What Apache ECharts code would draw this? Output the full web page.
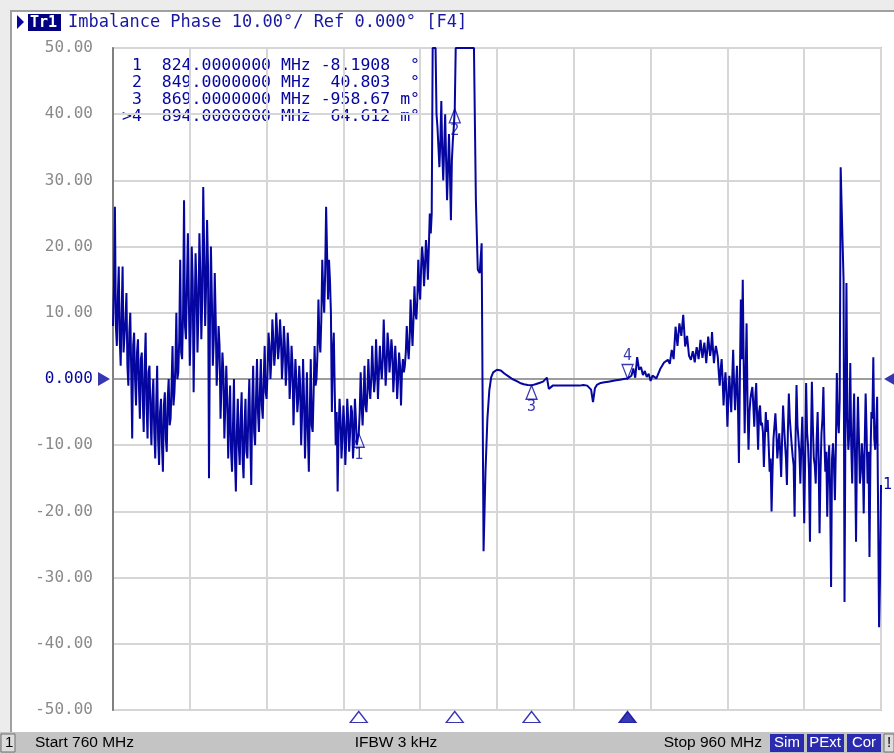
<!DOCTYPE html>
<html><head><meta charset="utf-8">
<script src="https://cdn.jsdelivr.net/npm/echarts@6/dist/echarts.min.js"></script>
<style>html,body{margin:0;padding:0;background:#fff;}#c{width:894px;height:753px;}</style>
</head><body><div id="c"></div>
<script>
// Frequency span (MHz); trace sampled every 0.5 MHz, noisy bands also at the quarter points
const startMHz = 760, stopMHz = 960, stepMHz = 0.5, bandMHz = 10;
const yTicks = [-50,-40,-30,-20,-10,0,10,20,30,40,50];
// Phase imbalance (deg) at 760.0, 760.5, ... per 10 MHz band
const b760 = [8,26,5,17,2,17,4,13,-1,10,-9,7,-4,6,-6,4,-8,7,-9,2];
const b770 = [-10,0,-12,2,-13,-3,-14,-2,-11,0,-6,5,-2,10,1,18,3,27,6,22];
const b780 = [2,20,-2,19,4,22,6,29,8,24,-15,20,2,16,-1,8,-6,4,-9,2];
const b790 = [-12,-1,-14,0,-17,-3,-13,-2,-15,-3,-12,0,-16,2,-10,3,-8,3,-6,5];
const b800 = [-3,7,0,9,2,10,3,9,0,8,-1,7,-3,5,-7,3,-5,2,-10,3];
const b810 = [-12,1,-14,3,-8,5,0,12,4,18,10,26,12,15,-5,7,-10,-17,-3,-12];
const b820 = [-4,-13,-3,-11,-4,-12,-3,-10,-8.1908,1,-7,2,-5,3,-3,5,-2,6,-3,5];
const b830 = [0,9,-1,7,1,6,-2,5,-3,4,-4,3,2,8,3,12,5,14,9,18];
const b840 = [12,20,14,21,15,25,25,50,50,38,32,42,30,40,27,37,24,36,40.803,50];
const b850 = [50,50,50,50,50,50,50,50,50,27,16.5,16,20.5,-26,-14,-6,-1.7,0.3,1.0,1.2];
const b860 = [1.4,1.4,1.3,1.0,0.8,0.6,0.4,0.2,0.0,-0.2,-0.3,-0.5,-0.6,-0.7,-0.8,-0.8,-0.9,-1.0,-0.95867,-0.9];
const b870 = [-0.8,-0.7,-0.6,-0.5,-0.4,-0.2,0.2,-1.5,-1.3,-1.0,-1.0,-1.0,-1.0,-1.0,-1.0,-1.0,-1.0,-1.0,-1.0,-1.0];
const b880 = [-1.0,-1.0,-1.0,-1.0,-0.9,-0.9,-1.0,-1.0,-1.2,-1.6,-3.5,-1.4,-0.9,-0.7,-0.6,-0.6,-0.5,-0.5,-0.4,-0.4];
const b890 = [-0.3,-0.3,-0.2,-0.2,-0.1,-0.1,0.0,0.0,0.064612,-0.1,0.5,1.6,0.2,3.3,1.4,1.8,0.6,1.2,0.3,0.8];
const b900 = [-0.3,0.5,0.8,0.1,0.3,1.5,1.8,2.5,2.2,2.9,2.3,4.4,3.0,7.9,5.0,8.4,6.5,9.7,4.9,6.5];
const b910 = [3.5,2.9,4.2,2.5,4.8,3.0,5.9,3.2,5.5,2.4,6.4,3.5,7.1,2.4,5.0,3.3,-1.0,3.0,-4.0,1.0];
const b920 = [-7.2,0.5,-5.0,4.4,-4.7,2.0,-12.7,12,15,-8.2,8.4,-10.7,-3,-1.2,-7.2,-0.6,-10.7,-4,-6.6,-13.3];
const b930 = [-5,-6.2,-14,-20,-9,-5.2,-12,-8.2,-14.8,-4,-9.7,-16,-2.2,-8,-11.7,-20.8,-0.9,-9,-15.8,-5.7];
const b940 = [-21.8,-0.6,-10,-24.6,-0.4,-12,-15.8,-5,-23.3,-8.2,-1.2,-14,-20.8,-10,-31.4,-9.7,-18.3,0.9,-8.2,32];
const b950 = [20.5,-33.7,14.5,-10.7,2.4,-15.8,-2.2,-24.6,-2.7,-15.8,-9.7,-20.3,-2.2,-15.8,-26.9,-5,3.3,-10.7,-2.7,-37.5,-16];
// Core of the noise band (deg) at 760.25, 760.75, ... (noisy bands only)
const c760 = [14,8,12,6,10,4,9,2,7,1,5,0,4,-1,3,-3,2,-4,1,-5];
const c770 = [-3,-8,-4,-9,-5,-10,-4,-9,-3,-7,-1,-4,2,0,6,4,10,8,14,12];
const c780 = [8,15,9,14,10,16,12,19,14,17,8,12,6,9,3,5,-1,1,-4,-3];
const c790 = [-6,-11,-7,-12,-8,-10,-6,-12,-7,-11,-5,-9,-4,-8,-3,-5,-2,-4,0,-2];
const c800 = [1,5,3,6,4,7,5,6,3,5,2,4,0,2,-2,0,-3,-1,-5,-3];
const c810 = [-6,-8,-5,-7,-2,-1,4,6,9,13,16,19,18,10,4,-2,-5,-8,-6,-9];
const c820 = [-7,-9,-6,-8,-5,-9,-6,-9,-5,-4,-3,-4,-2,-1,0,1,0,2,1,2];
const c830 = [3,4,2,5,3,4,1,2,0,2,1,1,4,5,6,8,9,10,12,14];
const c840 = [17,18,17,19,20,22,50,50,40,35,36,34,35,33,32,31,33,38,50,50];
const c910 = [3.2,3.6,3.4,3.8,4.0,4.4,4.5,4.2,4.0,4.4,5.0,4.6,4.4,4.0,4.2,1.0,1.5,0.0,-1.0,-2.0];
const c920 = [-3,-2,0,-1,-1,-4,0,3,2,1,-4,-5,-2,-4,-3,-6,-5,-7,-8,-9];
const c930 = [-8,-10,-12,-14,-9,-8,-10,-11,-9,-7,-12,-8,-6,-10,-13,-9,-7,-11,-10,-12];
const c940 = [-12,-8,-14,-10,-7,-13,-9,-12,-14,-6,-9,-11,-13,-17,-12,-13,-10,-6,-3,26];
const c950 = [15,-5,-6,-8,-10,-8,-12,-10,-9,-14,-12,-10,-8,-11,-12,-6,-9,-7,-20,-30];

const bands = [b760,b770,b780,b790,b800,b810,b820,b830,b840,b850,b860,b870,b880,b890,b900,b910,b920,b930,b940,b950];
const cores = [c760,c770,c780,c790,c800,c810,c820,c830,c840,null,null,null,null,null,null,c910,c920,c930,c940,c950];

// Markers
const mkFreq = [824, 849, 869, 894];
const mkVal = [-8.1908, 40.803, -0.95867, 0.064612];
const mkName = ['1','2','3','4'];
const mkLines = [
  ' 1  824.0000000 MHz -8.1908  \u00b0',
  ' 2  849.0000000 MHz  40.803  \u00b0',
  ' 3  869.0000000 MHz -958.67 m\u00b0',
  '>4  894.0000000 MHz  64.612 m\u00b0'
];
const titleText = 'Imbalance Phase 10.00\u00b0/ Ref 0.000\u00b0 [F4]';

const trace = [];
bands.forEach((band, bi) => {
  const f0 = startMHz + bi * bandMHz;
  band.forEach((v, i) => {
    const f = f0 + i * stepMHz;
    trace.push([f, v]);
    const core = cores[bi];
    if (core && i < core.length) trace.push([f + stepMHz / 2, core[i]]);
  });
});

const NAVY = '#0505a0';
const MONO = '"DejaVu Sans Mono", monospace';
const SANS = '"Liberation Sans", Arial, sans-serif';

const chart = echarts.init(document.getElementById('c'), null, {renderer: 'canvas'});
chart.setOption({
  animation: false,
  backgroundColor: '#ffffff',
  grid: {left: 113, right: 13, top: 48, bottom: 43, show: true, borderColor: '#8c8c8c', borderWidth: 1.5},
  xAxis: {type: 'value', min: startMHz, max: stopMHz, interval: 20,
    axisLabel: {show: false}, axisTick: {show: false},
    axisLine: {show: true, lineStyle: {color: '#8c8c8c', width: 1.5}},
    splitLine: {show: true, lineStyle: {color: '#d6d6d6', width: 2}}},
  yAxis: {type: 'value', min: yTicks[0], max: yTicks[yTicks.length-1], interval: 10,
    axisTick: {show: false},
    axisLine: {show: true, lineStyle: {color: '#808080', width: 2}},
    splitLine: {show: true, lineStyle: {color: '#d6d6d6', width: 2}},
    axisLabel: {margin: 20, fontFamily: MONO, fontSize: 16, color: '#8a8a8a',
      formatter: v => v === 0 ? '{z|0.000}' : v.toFixed(2),
      rich: {z: {color: NAVY, fontFamily: MONO, fontSize: 16}}}},
  series: [
    {type: 'line', data: trace, showSymbol: false, clip: true, sampling: null,
      lineStyle: {color: NAVY, width: 2}, itemStyle: {color: NAVY},
      endLabel: {show: true, formatter: '1', color: NAVY, fontFamily: MONO, fontSize: 15, distance: 2}},
    {type: 'scatter', clip: false, z: 5,
      data: mkFreq.slice(0,3).map((f,i) => ({value: [f, mkVal[i]], name: mkName[i]})),
      symbol: 'triangle', symbolSize: [11, 14], symbolOffset: [0, 7],
      itemStyle: {color: 'rgba(255,255,255,0)', borderColor: NAVY, borderWidth: 1.3},
      label: {show: true, position: 'bottom', distance: 0, formatter: p => p.name, color: NAVY, fontFamily: MONO, fontSize: 15}},
    {type: 'scatter', clip: false, z: 5,
      data: [{value: [mkFreq[3], mkVal[3]], name: mkName[3]}],
      symbol: 'triangle', symbolRotate: 180, symbolSize: [11, 14], symbolOffset: [0, -7],
      itemStyle: {color: 'rgba(255,255,255,0)', borderColor: NAVY, borderWidth: 1.3},
      label: {show: true, position: 'top', distance: 0, formatter: p => p.name, color: NAVY, fontFamily: MONO, fontSize: 15}},
    {type: 'scatter', clip: false, z: 5,
      data: mkFreq.map((f,i) => ({value: [f, yTicks[0]], itemStyle: i === 3 ? {color: NAVY} : {color: '#ffffff'}})),
      symbol: 'triangle', symbolSize: [17, 11], symbolOffset: [0, 7],
      itemStyle: {borderColor: NAVY, borderWidth: 1.3}},
    {type: 'scatter', clip: false, z: 5,
      data: [[startMHz, 0]], symbol: 'triangle', symbolRotate: -90, symbolSize: [14, 12], symbolOffset: [-9, 0],
      itemStyle: {color: NAVY}},
    {type: 'scatter', clip: false, z: 5,
      data: [[stopMHz, 0]], symbol: 'triangle', symbolRotate: 90, symbolSize: [14, 12], symbolOffset: [9, 0],
      itemStyle: {color: NAVY}}
  ],
  graphic: [
    {type: 'rect', shape: {x: 0, y: 0, width: 894, height: 10}, style: {fill: '#ececec'}},
    {type: 'rect', shape: {x: 10, y: 10, width: 884, height: 2}, style: {fill: '#a0a0a0'}},
    {type: 'rect', shape: {x: 0, y: 0, width: 10, height: 732}, style: {fill: '#ececec'}},
    {type: 'rect', shape: {x: 10, y: 10, width: 2, height: 722}, style: {fill: '#a0a0a0'}},
    {type: 'polygon', shape: {points: [[17,15],[24,22],[17,29]]}, style: {fill: NAVY}},
    {type: 'rect', shape: {x: 28, y: 14, width: 33, height: 17}, style: {fill: '#000080'}},
    {type: 'text', x: 30, y: 23, style: {text: 'Tr1', fill: '#ffffff', font: 'bold 15px ' + MONO, verticalAlign: 'middle'}},
    {type: 'text', x: 68, y: 23, style: {text: titleText, fill: '#1818a0', font: '17px ' + MONO, verticalAlign: 'middle'}},
    {type: 'text', x: 122, y: 57, style: {text: mkLines.join('\n'), fill: NAVY, font: '16.5px ' + MONO, lineHeight: 17}},
    {type: 'rect', shape: {x: 0, y: 732, width: 894, height: 21}, style: {fill: '#c4c4c4'}},
    {type: 'rect', shape: {x: 1, y: 734, width: 14, height: 18}, style: {fill: '#dcdcdc', stroke: '#707070', lineWidth: 1}},
    {type: 'text', x: 5, y: 743, style: {text: '1', fill: '#000', font: '15px ' + SANS, verticalAlign: 'middle'}},
    {type: 'text', x: 35, y: 743, style: {text: 'Start 760 MHz', fill: '#000', font: '15.5px ' + SANS, verticalAlign: 'middle'}},
    {type: 'text', x: 396, y: 743, style: {text: 'IFBW 3 kHz', fill: '#000', font: '15.5px ' + SANS, verticalAlign: 'middle', align: 'center'}},
    {type: 'text', x: 762, y: 743, style: {text: 'Stop 960 MHz', fill: '#000', font: '15.5px ' + SANS, verticalAlign: 'middle', align: 'right'}},
    {type: 'rect', shape: {x: 770, y: 734, width: 34, height: 18}, style: {fill: '#2b2bb0'}},
    {type: 'text', x: 787, y: 743, style: {text: 'Sim', fill: '#fff', font: '15px ' + SANS, verticalAlign: 'middle', align: 'center'}},
    {type: 'rect', shape: {x: 807, y: 734, width: 37, height: 18}, style: {fill: '#2b2bb0'}},
    {type: 'text', x: 825, y: 743, style: {text: 'PExt', fill: '#fff', font: '15px ' + SANS, verticalAlign: 'middle', align: 'center'}},
    {type: 'rect', shape: {x: 847, y: 734, width: 34, height: 18}, style: {fill: '#2b2bb0'}},
    {type: 'text', x: 864, y: 743, style: {text: 'Cor', fill: '#fff', font: '15px ' + SANS, verticalAlign: 'middle', align: 'center'}},
    {type: 'rect', shape: {x: 884, y: 734, width: 10, height: 18}, style: {fill: '#dcdcdc', stroke: '#707070', lineWidth: 1}},
    {type: 'text', x: 887, y: 743, style: {text: '!', fill: '#000', font: '15px ' + SANS, verticalAlign: 'middle'}}
  ]
});
</script></body></html>
